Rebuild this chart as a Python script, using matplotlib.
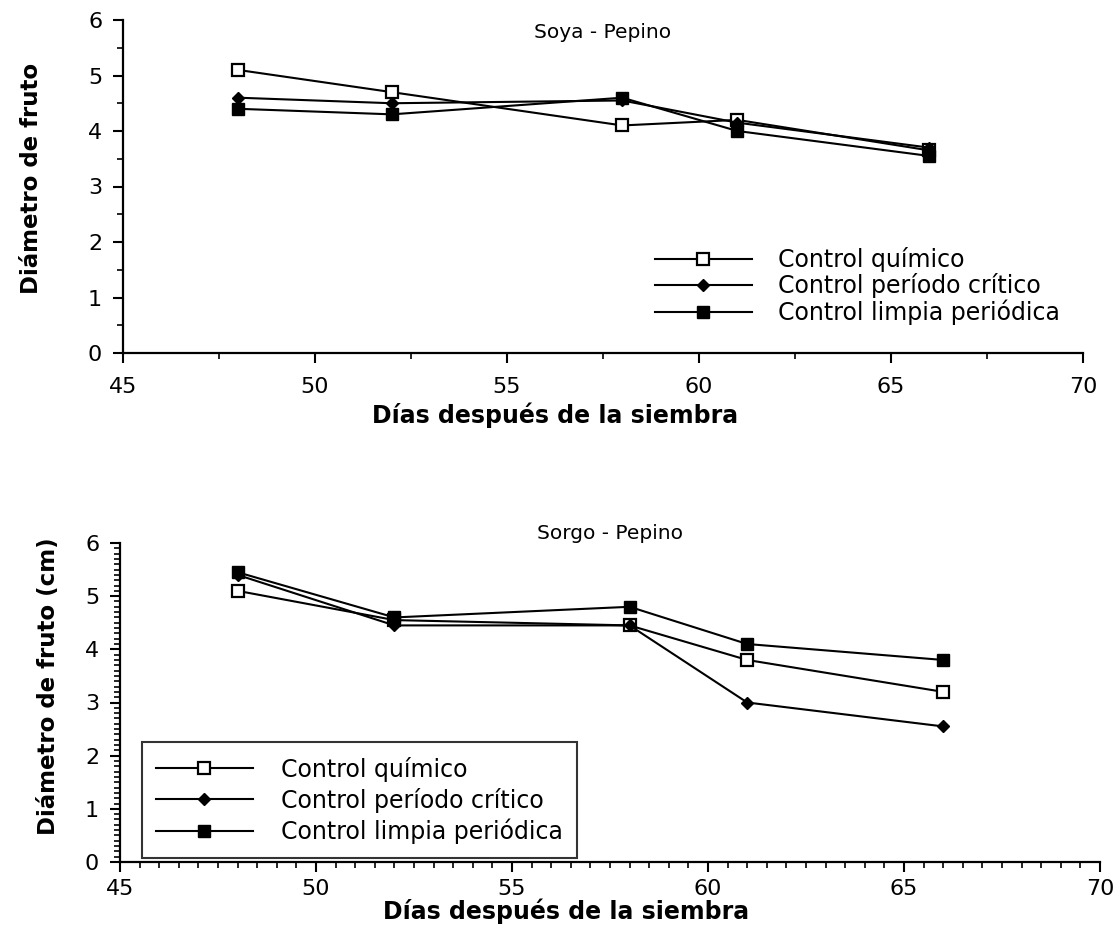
import numpy as np
import matplotlib.pyplot as plt
from matplotlib.ticker import MultipleLocator

# days after sowing
dias = [48, 52, 58, 61, 66]

# Soya - Pepino
soya_quimico = [5.1, 4.7, 4.1, 4.2, 3.65]
soya_critico = [4.6, 4.5, 4.55, 4.15, 3.7]
soya_limpia = [4.4, 4.3, 4.6, 4.0, 3.55]

# Sorgo - Pepino
sorgo_quimico = [5.1, 4.55, 4.45, 3.8, 3.2]
sorgo_critico = [5.4, 4.45, 4.45, 3.0, 2.55]
sorgo_limpia = [5.45, 4.6, 4.8, 4.1, 3.8]

series_names = ['Control químico', 'Control período crítico', 'Control limpia periódica']

fig = plt.figure(figsize=(11.18, 9.42), dpi=100)
ax1 = fig.add_axes([123 / 1118, 1 - 353 / 942, 960 / 1118, 333 / 942])
ax2 = fig.add_axes([120 / 1118, 1 - 862 / 942, 980 / 1118, 319 / 942])


def draw_panel(ax, quimico, critico, limpia, title, title_y, ylabel, dense, xpad):
    ax.plot(dias, quimico, color='black', lw=1.5, marker='s', ms=8,
            mfc='white', mec='black', mew=1.6, label=series_names[0])
    ax.plot(dias, critico, color='black', lw=1.5, marker='D', ms=6.5,
            mfc='black', mec='black', label=series_names[1])
    ax.plot(dias, limpia, color='black', lw=1.5, marker='s', ms=9,
            mfc='black', mec='black', label=series_names[2])
    ax.set_xlim(45, 70)
    ax.set_ylim(0, 6)
    ax.spines['top'].set_visible(False)
    ax.spines['right'].set_visible(False)
    ax.spines['left'].set_linewidth(1.6)
    ax.spines['bottom'].set_linewidth(1.6)
    ax.xaxis.set_major_locator(MultipleLocator(5))
    ax.yaxis.set_major_locator(MultipleLocator(1))
    if dense:
        ax.xaxis.set_minor_locator(MultipleLocator(0.5))
        ax.yaxis.set_minor_locator(MultipleLocator(0.1))
    else:
        ax.xaxis.set_minor_locator(MultipleLocator(2.5))
        ax.yaxis.set_minor_locator(MultipleLocator(0.5))
    ax.tick_params(which='major', direction='out', length=7, width=1.5,
                   labelsize=16)
    ax.tick_params(axis='x', which='major', pad=xpad)
    ax.tick_params(axis='y', which='major', pad=8)
    ax.tick_params(which='minor', direction='out', length=4, width=1.2)
    ax.text(0.5, title_y, title, transform=ax.transAxes, ha='center',
            va='top', fontsize=14.5)
    ax.set_xlabel('Días después de la siembra', fontsize=17, fontweight='bold')
    ax.set_ylabel(ylabel, fontsize=16.5, fontweight='bold')
    ax.yaxis.label.set_va('center')


draw_panel(ax1, soya_quimico, soya_critico, soya_limpia, 'Soya - Pepino', 0.99,
           'Diámetro de fruto', dense=False, xpad=10)
draw_panel(ax2, sorgo_quimico, sorgo_critico, sorgo_limpia, 'Sorgo - Pepino', 1.06,
           'Diámetro de fruto (cm)', dense=True, xpad=5)

ax1.xaxis.label.set_va('top')
ax1.xaxis.set_label_coords(0.45, -0.15)
ax1.yaxis.set_label_coords(-0.095, 0.525)
ax2.xaxis.label.set_va('top')
ax2.xaxis.set_label_coords(0.455, -0.115)
ax2.yaxis.set_label_coords(-0.073, 0.55)

leg1 = ax1.legend(loc='lower left', bbox_to_anchor=(0.532, 0.02), frameon=False,
                  numpoints=1, handlelength=4.1, handletextpad=1.1,
                  labelspacing=0.05, prop={'size': 17})

leg2 = ax2.legend(loc='lower left', bbox_to_anchor=(0.015, -0.01), frameon=True,
                  fancybox=False, edgecolor='black', numpoints=1,
                  handlelength=4.1, handletextpad=1.2, labelspacing=0.25,
                  borderpad=0.6, borderaxespad=0.3, prop={'size': 17})
leg2.get_frame().set_linewidth(1.5)

fig.savefig('out.png', dpi=100)
